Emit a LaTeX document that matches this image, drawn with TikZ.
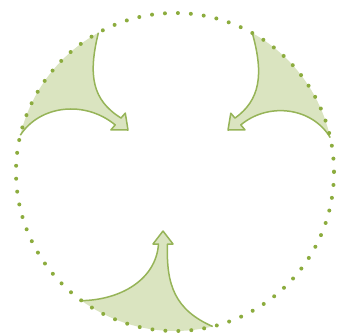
\documentclass[tikz,border=0pt]{standalone}
\usetikzlibrary{calc}
\definecolor{dotgreen}{RGB}{140,172,62}
\definecolor{fillgreen}{RGB}{218,228,192}
\definecolor{linegreen}{RGB}{150,180,88}
\tikzset{
  arrowfill/.style={fill=fillgreen,draw=none},
  arrowline/.style={draw=linegreen,line width=1.5pt,line join=round,fill=none},
  dotring/.style={draw=dotgreen,line width=4pt,line cap=round,dash pattern=on 0pt off 12.97pt}
}
\begin{document}
\begin{tikzpicture}[x=1pt,y=-1pt]
\useasboundingbox (0,0) rectangle (340,333);
\coordinate (O) at (175,172);
% circle anchor points
\coordinate (a1) at ($(O)+(241.2:159)$);
\coordinate (a2) at ($(O)+(193.4:159)$);
\coordinate (b1) at ($(O)+(-60.9:159)$);
\coordinate (b2) at ($(O)+(-12.5:159)$);
\coordinate (c1) at ($(O)+(76.3:159)$);
\coordinate (c2) at ($(O)+(126:159)$);
% top-left arrow
\coordinate (aU) at (121,118);
\coordinate (aL) at (115.2,124.9);
\coordinate (aW1) at (125.3,113.1);
\coordinate (aW2) at (110.9,129.9);
\coordinate (aT) at (128,130);
\fill[arrowfill] (a1) arc[start angle=241.2,end angle=193.4,radius=159]
  .. controls (40,105) and (85,100) .. (aL) -- (aW2) -- (aT) -- (aW1) -- (aU)
  .. controls (92,100) and (88,75) .. (a1) -- cycle;
\draw[arrowline] (a2) .. controls (40,105) and (85,100) .. (aL) -- (aW2) -- (aT) -- (aW1) -- (aU)
  .. controls (92,100) and (88,75) .. (a1);
% top-right arrow
\coordinate (bU) at (235,118.1);
\coordinate (bL) at (240.8,124.9);
\coordinate (bW1) at (230.8,113.2);
\coordinate (bW2) at (245,129.9);
\coordinate (bT) at (228,130);
\fill[arrowfill] (b1) arc[start angle=-60.9,end angle=-12.5,radius=159]
  .. controls (312,107) and (268,102) .. (bL) -- (bW2) -- (bT) -- (bW1) -- (bU)
  .. controls (260,100) and (264,75) .. (b1) -- cycle;
\draw[arrowline] (b2) .. controls (312,107) and (268,102) .. (bL) -- (bW2) -- (bT) -- (bW1) -- (bU)
  .. controls (260,100) and (264,75) .. (b1);
% bottom arrow
\coordinate (cL) at (158.5,244);
\coordinate (cR) at (167.5,244);
\coordinate (cW1) at (153,244);
\coordinate (cW2) at (173,244);
\coordinate (cT) at (163,231);
\fill[arrowfill] (c1) arc[start angle=76.3,end angle=126,radius=159]
  .. controls (120,300) and (156,280) .. (cL) -- (cW1) -- (cT) -- (cW2) -- (cR)
  .. controls (166,285) and (175,310) .. (c1) -- cycle;
\draw[arrowline] (c2) .. controls (120,300) and (156,280) .. (cL) -- (cW1) -- (cT) -- (cW2) -- (cR)
  .. controls (166,285) and (175,310) .. (c1);
% dotted ring
\draw[dotring] (O) circle[radius=159];
\end{tikzpicture}
\end{document}
